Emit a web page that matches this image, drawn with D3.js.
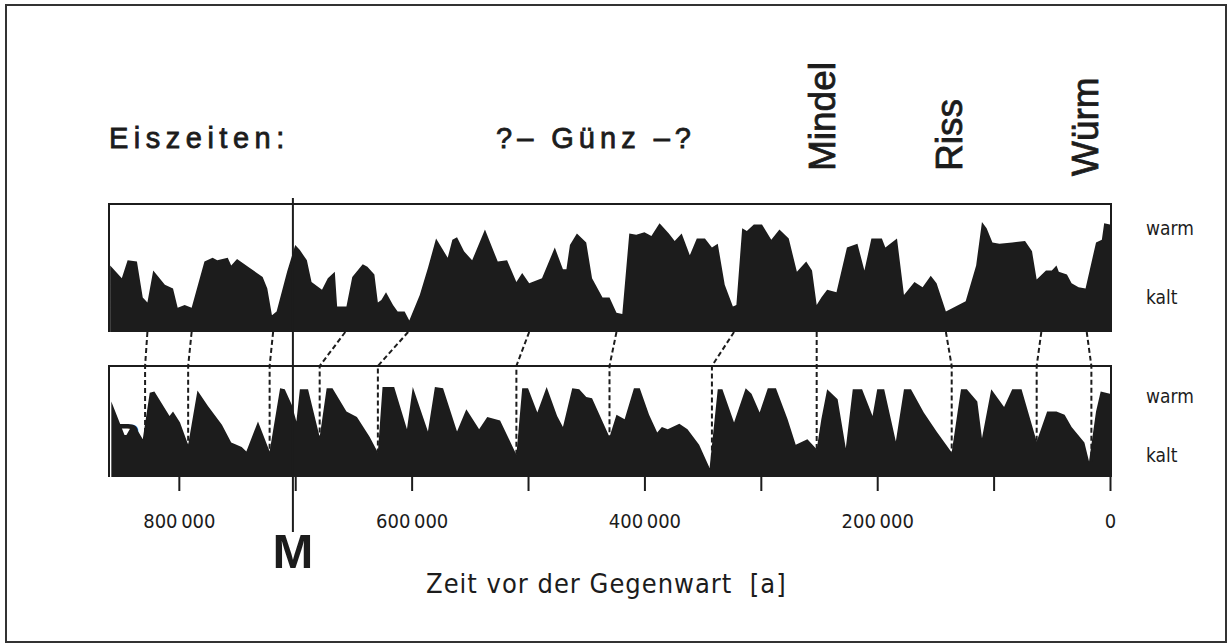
<!DOCTYPE html>
<html>
<head>
<meta charset="utf-8">
<script src="https://cdn.jsdelivr.net/npm/d3@7"></script>
<style>
  body { margin: 0; background: #fff; }
  svg { display: block; }
  .din { font-stretch: condensed; }
</style>
</head>
<body>
<div id="svg-container"></div>
<script>
// ages in ka (thousand years before present), values: 0 = kalt, 100 = warm
const ageA = [859,849,844,836,831,827,822,812,805,801,795,789,782,778,771,767,758,755,750,739,
  728,724,720,716,707,700,696,690,686,677,672,666,664,656,651,642,638,632,629,626,
  622,616,612,606,602,593,586,579,569,565,561,555,548,537,526,518,510,505,499,488,
  477,470,467,464,458,450,445,436,430,424,419,413,407,400,394,387,379,374,368,361,
  355,348,342,337,331,324,321,316,312,306,299,291,284,276,269,261,256,252,248,243,
  235,226,217,211,205,196,193,183,177,168,161,154,149,141,124,115,110,106,101,95,
  84,73,67,63,55,50,46,44,37,33,27,21,12,7,5,0];
const valA = [52,42,56,55,27,23,48,37,34,19,21,19,42,55,58,56,58,52,57,50,
  43,34,13,16,47,68,64,56,39,33,42,47,20,20,43,53,51,45,23,25,
  31,21,16,16,9,29,50,73,58,72,74,63,56,80,55,56,39,46,38,42,
  66,49,49,68,77,70,42,27,27,15,14,77,76,78,75,85,77,71,77,60,
  73,73,66,69,37,20,21,81,79,84,84,72,80,73,47,55,48,21,27,33,
  31,66,69,48,73,73,66,73,29,39,35,44,38,16,24,52,86,81,70,69,
  70,71,63,41,48,48,52,47,45,38,35,34,70,72,85,84];

const ageB = [858,846,840,836,831,825,821,808,805,799,792,784,775,763,755,746,742,732,722,713,
  709,703,699,696,689,679,673,668,656,647,636,629,625,615,604,599,586,580,573,561,
  553,542,535,524,510,505,500,492,484,475,470,462,456,450,445,430,424,417,409,404,
  396,389,385,380,370,363,353,344,337,333,323,313,308,301,294,287,277,270,260,252,
  248,243,234,227,221,213,204,200,194,184,177,171,160,149,136,131,128,123,114,110,
  102,91,84,76,63,54,46,39,33,22,18,12,8,0];
const valB = [68,36,47,43,34,76,77,55,59,49,29,78,64,47,31,27,23,50,23,80,
  79,65,50,79,79,36,80,80,59,54,36,22,81,81,43,81,41,81,80,41,
  61,43,54,51,20,80,80,58,81,55,45,80,79,72,71,36,56,52,80,80,
  56,40,45,43,48,43,29,8,79,79,49,80,75,58,80,80,52,29,34,25,
  52,79,70,26,79,79,55,79,79,32,79,79,58,41,22,58,79,79,68,35,
  79,63,79,79,32,59,59,56,45,31,14,59,77,75];

// correlation of cold minima between curve A and curve B (ka)
const corrAgeA = [827,789,719,657,603,499,424,323,252,141,59,20];
const corrAgeB = [829,792,722,679,629,510,430,342,252,136,63,16];

// Matuyama/Brunhes boundary
const magReversalKa = 702;

const tickKa = [0,100,200,300,400,500,600,700,800];
const labelKa = [0,200,400,600,800];

const iceAgeNames = ["Mindel","Riss","Würm"];
const iceAgeKa = [236,127,10];

const W = 1228, H = 644;
const ink = "#1c1c1c";
const din = "'DejaVu Sans Condensed','DejaVu Sans',sans-serif";
const helv = "'Liberation Sans',Arial,Helvetica,sans-serif";

const svg = d3.select("#svg-container").append("svg")
  .attr("width", W).attr("height", H);

svg.append("rect").attr("width", W).attr("height", H).attr("fill", "#fff");

// outer frame
svg.append("rect")
  .attr("x", 6).attr("y", 5).attr("width", 1220).attr("height", 637)
  .attr("fill", "none").attr("stroke", "#333").attr("stroke-width", 2);

// scales
const x = d3.scaleLinear().domain([860, 0]).range([109, 1110]);
const yA = d3.scaleLinear().domain([0, 100]).range([332, 204]);
const yB = d3.scaleLinear().domain([0, 100]).range([477, 366]);

const dataA = ageA.map((a, i) => ({ ka: a, v: valA[i] }));
const dataB = ageB.map((a, i) => ({ ka: a, v: valB[i] }));

function drawPanel(data, y) {
  const area = d3.area()
    .x(d => x(d.ka))
    .y0(y(0))
    .y1(d => y(d.v))
    .curve(d3.curveLinear);

  svg.append("path")
    .datum(data)
    .attr("d", area)
    .attr("fill", ink);

  // box: top, left, right
  const x0 = x.range()[0], x1 = x.range()[1] + 1;
  svg.append("path")
    .attr("d", `M${x0},${y(0)}V${y(100)}H${x1}V${y(0)}`)
    .attr("fill", "none")
    .attr("stroke", ink)
    .attr("stroke-width", 2);
}

drawPanel(dataA, yA);
drawPanel(dataB, yB);

// dashed correlation lines
corrAgeA.forEach((a, i) => {
  const b = corrAgeB[i];
  const nearest = dataB.reduce((p, c) => Math.abs(c.ka - b) < Math.abs(p.ka - b) ? c : p);
  svg.append("path")
    .attr("d", `M${x(a)},${yA(0)}L${x(b)},${yB(100)}L${x(b)},${yB(nearest.v)}`)
    .attr("fill", "none")
    .attr("stroke", ink)
    .attr("stroke-width", 2)
    .attr("stroke-dasharray", "5,3");
});

// M line
svg.append("line")
  .attr("x1", x(magReversalKa)).attr("x2", x(magReversalKa))
  .attr("y1", 198).attr("y2", 532)
  .attr("stroke", ink).attr("stroke-width", 2);

svg.append("text")
  .attr("x", x(magReversalKa)).attr("y", 568)
  .attr("text-anchor", "middle")
  .attr("font-family", helv).attr("font-weight", "bold").attr("font-size", 49)
  .attr("fill", ink)
  .text("M");

// x axis
const xAxis = d3.axisBottom(x)
  .tickValues(tickKa)
  .tickSize(14)
  .tickFormat(d => labelKa.includes(d) ? (d === 0 ? "0" : d + "\u2009000") : "");

const axisG = svg.append("g")
  .attr("transform", `translate(0,${yB(0)})`)
  .call(xAxis);

axisG.select(".domain").remove();
axisG.selectAll(".tick line").attr("stroke", ink).attr("stroke-width", 2);
axisG.selectAll(".tick text")
  .attr("class", "din")
  .attr("y", 51).attr("dy", 0)
  .attr("fill", ink)
  .attr("font-family", din)
  .attr("font-size", 20);

svg.append("text")
  .attr("class", "din")
  .attr("x", 426).attr("y", 593)
  .attr("font-family", din).attr("font-size", 27)
  .attr("letter-spacing", 1)
  .attr("fill", ink)
  .text("Zeit vor der Gegenwart\u00a0 [a]");

// panel letters
svg.append("text").attr("x", 129).attr("y", 301).attr("text-anchor", "middle")
  .attr("font-family", helv).attr("font-weight", "bold").attr("font-size", 40)
  .attr("fill", ink).text("A");
svg.append("text").attr("x", 127).attr("y", 452).attr("text-anchor", "middle")
  .attr("font-family", helv).attr("font-weight", "bold").attr("font-size", 40)
  .attr("fill", ink).text("B");

// warm / kalt
const sideLabels = [
  { t: "warm", y: 235 }, { t: "kalt", y: 304 },
  { t: "warm", y: 403 }, { t: "kalt", y: 462 }
];
svg.selectAll(".side")
  .data(sideLabels)
  .enter()
  .append("text")
  .attr("class", "side din")
  .attr("x", 1146)
  .attr("y", d => d.y)
  .attr("font-family", din).attr("font-size", 19)
  .attr("fill", ink)
  .text(d => d.t);

// ice ages
svg.append("text")
  .attr("x", 109).attr("y", 148)
  .attr("font-family", helv).attr("font-size", 29)
  .attr("letter-spacing", 5.5)
  .attr("fill", ink).attr("stroke", ink).attr("stroke-width", 0.8)
  .text("Eiszeiten:");

svg.append("text")
  .attr("x", 496).attr("y", 148)
  .attr("font-family", helv).attr("font-size", 29)
  .attr("letter-spacing", 5)
  .attr("fill", ink).attr("stroke", ink).attr("stroke-width", 0.8)
  .text("?– Günz –?");

svg.selectAll(".iceage")
  .data(iceAgeNames)
  .enter()
  .append("text")
  .attr("class", "iceage")
  .attr("transform", (d, i) => `translate(${x(iceAgeKa[i])},${d === "Würm" ? 176 : 171}) rotate(-90)`)
  .attr("font-family", helv).attr("font-size", 37)
  .attr("fill", ink).attr("stroke", ink).attr("stroke-width", 0.8)
  .text(d => d);
</script>
</body>
</html>
